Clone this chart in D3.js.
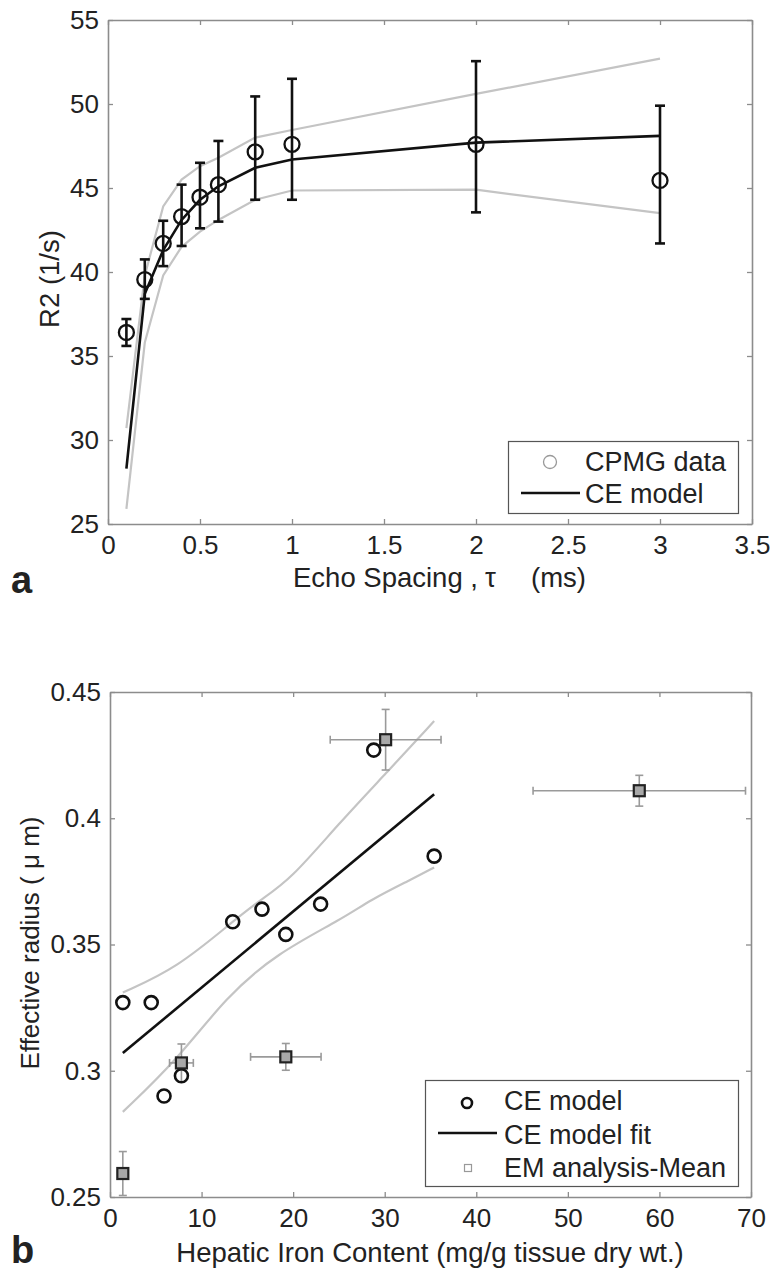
<!DOCTYPE html>
<html>
<head>
<meta charset="utf-8">
<script src="https://cdn.jsdelivr.net/npm/d3@7"></script>
<style>
  body { margin: 0; background: #fff; }
  svg text { font-family: "Liberation Sans", Arial, Helvetica, sans-serif; fill: #222; }
</style>
</head>
<body>
<svg id="fig" width="773" height="1271"></svg>
<script>
// panel a: R2 vs echo spacing
var tau    = [0.1, 0.2, 0.3, 0.4, 0.5, 0.6, 0.8, 1, 2, 3];
var r2     = [36.4, 39.55, 41.7, 43.3, 44.45, 45.2, 47.15, 47.6, 47.6, 45.45];
var r2Lo   = [35.6, 38.4, 40.35, 41.55, 42.6, 43.0, 44.3, 44.3, 43.55, 41.7];
var r2Hi   = [37.2, 40.75, 43.05, 45.2, 46.5, 47.8, 50.45, 51.5, 52.55, 49.9];
var model  = [28.3, 38.7, 41.3, 43.1, 44.3, 45.1, 46.2, 46.7, 47.7, 48.1];
var modelU = [30.7, 39.8, 43.9, 45.5, 46.3, 46.8, 48.0, 48.45, 50.6, 52.7];
var modelL = [25.9, 35.8, 39.8, 41.5, 42.4, 43.1, 44.3, 44.85, 44.9, 43.5];
var xTicksA = [0, 0.5, 1, 1.5, 2, 2.5, 3, 3.5];
var yTicksA = [25, 30, 35, 40, 45, 50, 55];

// panel b: effective radius vs hepatic iron content
var hic     = [1.4, 4.5, 5.9, 7.8, 13.4, 16.6, 19.2, 23.0, 28.8, 35.4];
var radius  = [0.327, 0.327, 0.290, 0.298, 0.359, 0.364, 0.354, 0.366, 0.427, 0.385];
var fitX    = [1.4, 35.4];
var fitY    = [0.307, 0.4095];
var bandUX  = [1.4, 7.3, 13.5, 16.4, 19.7, 25, 30.2, 35.4];
var bandU   = [0.331, 0.3406, 0.3594, 0.3676, 0.3756, 0.398, 0.418, 0.4385];
var bandLX  = [1.4, 7.3, 12.7, 18.2, 25.5, 28.4, 32.8, 35.4];
var bandL   = [0.2837, 0.3042, 0.3293, 0.3465, 0.3604, 0.3676, 0.3756, 0.3805];
var emX     = [1.4, 7.8, 19.2, 30.1, 57.8];
var emY     = [0.2593, 0.3031, 0.3055, 0.4311, 0.4109];
var emXErr  = [0, 1.3, 3.85, 6.05, 11.6];
var emYErr  = [0.0087, 0.0075, 0.0053, 0.012, 0.0061];
var xTicksB = [0, 10, 20, 30, 40, 50, 60, 70];
var yTicksB = [0.25, 0.3, 0.35, 0.4, 0.45];

var AXIS = "#8c8c8c", BAND = "#c4c4c4", EMG = "#9a9a9a";
var svg = d3.select("#fig");

function zip(xs, ys) { return xs.map(function (x, i) { return [x, ys[i]]; }); }

function frame(g, x, y, xt, yt, xfmt, yfmt) {
    var w = x.range()[1] - x.range()[0], h = y.range()[0] - y.range()[1];
    g.append("g").attr("transform", "translate(0," + h + ")")
        .call(d3.axisBottom(x).tickValues(xt).tickSizeInner(-5).tickSizeOuter(0).tickPadding(12).tickFormat(xfmt));
    g.append("g")
        .call(d3.axisTop(x).tickValues(xt).tickSizeInner(-5).tickSizeOuter(0).tickFormat(""));
    g.append("g")
        .call(d3.axisLeft(y).tickValues(yt).tickSizeInner(-5).tickSizeOuter(0).tickPadding(9).tickFormat(yfmt));
    g.append("g").attr("transform", "translate(" + w + ",0)")
        .call(d3.axisRight(y).tickValues(yt).tickSizeInner(-5).tickSizeOuter(0).tickFormat(""));
    g.selectAll(".domain").attr("stroke", AXIS).attr("stroke-width", 1.6);
    g.selectAll(".tick line").attr("stroke", AXIS).attr("stroke-width", 1.3);
    g.selectAll(".tick text").attr("font-size", 26).style("font-family", "'Liberation Sans', Arial, sans-serif").attr("fill", "#2a2a2a");
}

// ---------- panel a ----------
var ga = svg.append("g").attr("transform", "translate(108,20)");
var xa = d3.scaleLinear().domain([0, 3.5]).range([0, 644]);
var ya = d3.scaleLinear().domain([25, 55]).range([504, 0]);
var lineA = d3.line().x(function (d) { return xa(d[0]); }).y(function (d) { return ya(d[1]); });

frame(ga, xa, ya, xTicksA, yTicksA, d3.format("~g"), d3.format("d"));

[modelU, modelL].forEach(function (s) {
    ga.append("path").attr("d", lineA(zip(tau, s)))
        .attr("fill", "none").attr("stroke", BAND).attr("stroke-width", 2.2);
});

var eb = ga.append("g").attr("stroke", "#111").attr("stroke-width", 2.6);
tau.forEach(function (t, i) {
    var cx = xa(t);
    eb.append("line").attr("x1", cx).attr("x2", cx).attr("y1", ya(r2Lo[i])).attr("y2", ya(r2Hi[i]));
    eb.append("line").attr("x1", cx - 5).attr("x2", cx + 5).attr("y1", ya(r2Lo[i])).attr("y2", ya(r2Lo[i]));
    eb.append("line").attr("x1", cx - 5).attr("x2", cx + 5).attr("y1", ya(r2Hi[i])).attr("y2", ya(r2Hi[i]));
});

ga.append("path").attr("d", lineA(zip(tau, model)))
    .attr("fill", "none").attr("stroke", "#111").attr("stroke-width", 2.6);

ga.selectAll("circle.pt").data(zip(tau, r2)).enter().append("circle")
    .attr("cx", function (d) { return xa(d[0]); }).attr("cy", function (d) { return ya(d[1]); })
    .attr("r", 7.5).attr("fill", "none").attr("stroke", "#111").attr("stroke-width", 2.3);

// legend a
var la = svg.append("g");
la.append("rect").attr("x", 508.5).attr("y", 441.5).attr("width", 230).attr("height", 72)
    .attr("fill", "#fff").attr("stroke", "#555").attr("stroke-width", 1.2);
la.append("circle").attr("cx", 550).attr("cy", 462).attr("r", 6.5)
    .attr("fill", "none").attr("stroke", "#999").attr("stroke-width", 1.3);
la.append("line").attr("x1", 521).attr("x2", 580).attr("y1", 493).attr("y2", 493)
    .attr("stroke", "#111").attr("stroke-width", 2.6);
la.append("text").attr("x", 585).attr("y", 471).attr("font-size", 27).text("CPMG data");
la.append("text").attr("x", 585).attr("y", 503).attr("font-size", 27).text("CE model");

var xla = svg.append("text").attr("y", 587).attr("font-size", 27.5);
xla.append("tspan").attr("x", 293).text("Echo Spacing , ");
xla.append("tspan").attr("x", 485).text("\u03c4");
xla.append("tspan").attr("x", 531).text("(ms)");
svg.append("text").attr("transform", "translate(59,279) rotate(-90)").attr("text-anchor", "middle")
    .attr("font-size", 27.5).text("R2 (1/s)");
svg.append("text").attr("x", 11).attr("y", 593).attr("font-size", 38).attr("font-weight", "bold")
    .attr("fill", "#111").text("a");

// ---------- panel b ----------
var gb = svg.append("g").attr("transform", "translate(110,692)");
var xb = d3.scaleLinear().domain([0, 70]).range([0, 641]);
var yb = d3.scaleLinear().domain([0.25, 0.45]).range([505, 0]);
var lineB = d3.line().x(function (d) { return xb(d[0]); }).y(function (d) { return yb(d[1]); });
var curveB = d3.line().x(function (d) { return xb(d[0]); }).y(function (d) { return yb(d[1]); })
    .curve(d3.curveBasis);

frame(gb, xb, yb, xTicksB, yTicksB, d3.format("d"), d3.format("~g"));

gb.append("path").attr("d", curveB(zip(bandUX, bandU)))
    .attr("fill", "none").attr("stroke", BAND).attr("stroke-width", 2.2);
gb.append("path").attr("d", curveB(zip(bandLX, bandL)))
    .attr("fill", "none").attr("stroke", BAND).attr("stroke-width", 2.2);
gb.append("path").attr("d", lineB(zip(fitX, fitY)))
    .attr("fill", "none").attr("stroke", "#111").attr("stroke-width", 2.6);

// EM error bars
var ebb = gb.append("g").attr("stroke", EMG).attr("stroke-width", 1.6);
emX.forEach(function (v, i) {
    var cx = xb(v), cy = yb(emY[i]);
    var y0 = yb(Math.max(0.25, emY[i] - emYErr[i])), y1 = yb(emY[i] + emYErr[i]);
    ebb.append("line").attr("x1", cx).attr("x2", cx).attr("y1", y0).attr("y2", y1);
    ebb.append("line").attr("x1", cx - 4).attr("x2", cx + 4).attr("y1", y0).attr("y2", y0);
    ebb.append("line").attr("x1", cx - 4).attr("x2", cx + 4).attr("y1", y1).attr("y2", y1);
    if (emXErr[i] > 0) {
        var x0 = xb(v - emXErr[i]), x1 = xb(v + emXErr[i]);
        ebb.append("line").attr("x1", x0).attr("x2", x1).attr("y1", cy).attr("y2", cy);
        ebb.append("line").attr("x1", x0).attr("x2", x0).attr("y1", cy - 4).attr("y2", cy + 4);
        ebb.append("line").attr("x1", x1).attr("x2", x1).attr("y1", cy - 4).attr("y2", cy + 4);
    }
});

gb.selectAll("circle.ce").data(zip(hic, radius)).enter().append("circle")
    .attr("cx", function (d) { return xb(d[0]); }).attr("cy", function (d) { return yb(d[1]); })
    .attr("r", 6.5).attr("fill", "none").attr("stroke", "#111").attr("stroke-width", 2.6);

gb.selectAll("rect.em").data(zip(emX, emY)).enter().append("rect")
    .attr("x", function (d) { return xb(d[0]) - 5.5; }).attr("y", function (d) { return yb(d[1]) - 5.5; })
    .attr("width", 11).attr("height", 11)
    .attr("fill", "#a8a8a8").attr("stroke", "#222").attr("stroke-width", 2.2);

// legend b
var lb = svg.append("g");
lb.append("rect").attr("x", 425.5).attr("y", 1080.5).attr("width", 313).attr("height", 106)
    .attr("fill", "#fff").attr("stroke", "#555").attr("stroke-width", 1.2);
lb.append("circle").attr("cx", 467).attr("cy", 1103).attr("r", 5)
    .attr("fill", "none").attr("stroke", "#111").attr("stroke-width", 2.6);
lb.append("line").attr("x1", 438).attr("x2", 497).attr("y1", 1133).attr("y2", 1133)
    .attr("stroke", "#111").attr("stroke-width", 2.6);
lb.append("rect").attr("x", 464.5).attr("y", 1164.5).attr("width", 7).attr("height", 7)
    .attr("fill", "none").attr("stroke", "#999").attr("stroke-width", 1.2);
lb.append("text").attr("x", 504).attr("y", 1110).attr("font-size", 27).text("CE model");
lb.append("text").attr("x", 504).attr("y", 1144).attr("font-size", 27).text("CE model fit");
lb.append("text").attr("x", 504).attr("y", 1177).attr("font-size", 27).text("EM analysis-Mean");

svg.append("text").attr("x", 430).attr("y", 1262).attr("text-anchor", "middle").attr("font-size", 27.5)
    .text("Hepatic Iron Content (mg/g tissue dry wt.)");
svg.append("text").attr("transform", "translate(39,943) rotate(-90)").attr("text-anchor", "middle")
    .attr("font-size", 26).style("white-space", "pre").text("Effective radius ( \u03bc m)");
svg.append("text").attr("x", 11).attr("y", 1263).attr("font-size", 38).attr("font-weight", "bold")
    .attr("fill", "#111").text("b");
</script>
</body>
</html>
